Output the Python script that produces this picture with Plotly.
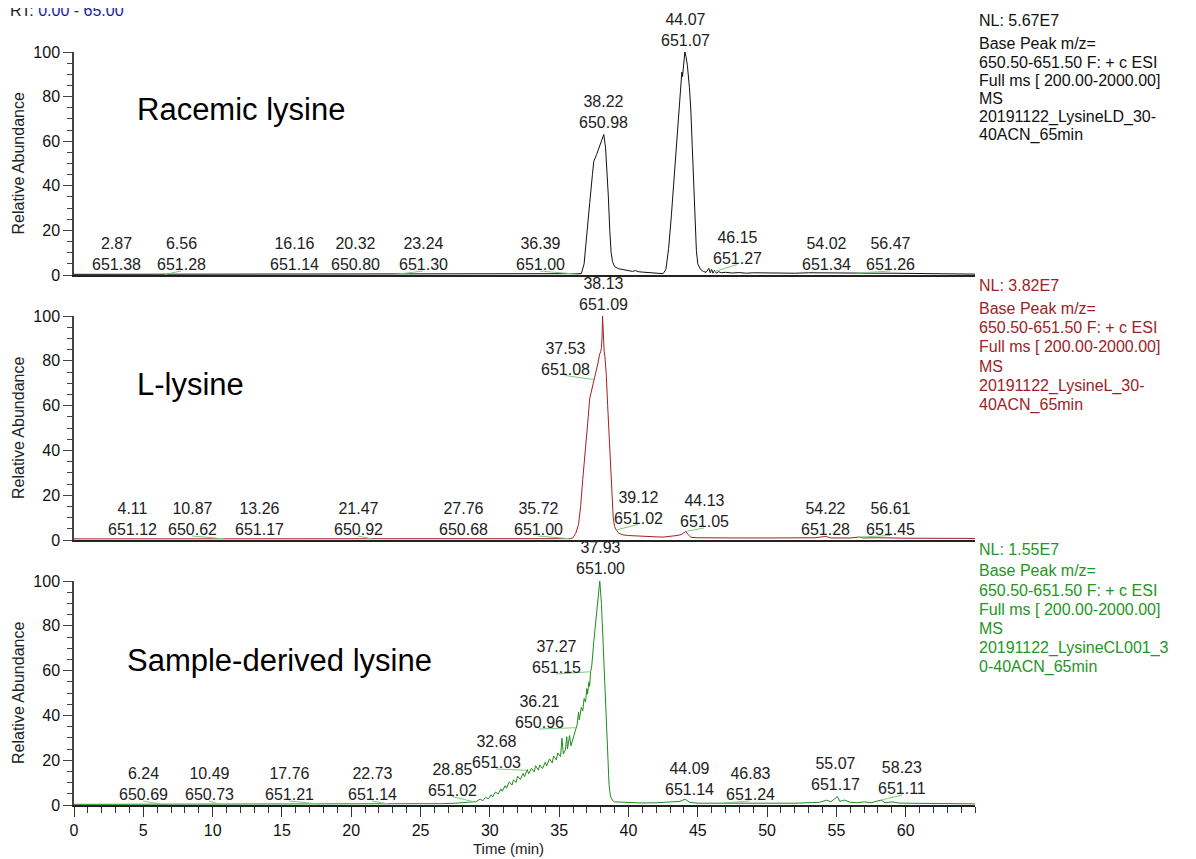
import plotly.graph_objects as go
import numpy as np

# ---------------- data ----------------
time_racemic = [0, 5, 10, 15, 20, 25, 30, 35, 36.4, 36.6, 36.8, 37.0, 37.2, 37.4, 37.5, 37.7, 37.9, 38.05,
                38.22, 38.35, 38.45, 38.55, 38.65, 38.75, 38.85, 39.0, 39.3, 39.7, 40.0, 40.3, 40.5, 40.7,
                41.0, 41.5, 42.0, 42.5, 42.7, 42.9, 43.1, 43.3, 43.5, 43.7, 43.85, 43.9, 43.98, 44.07,
                44.15, 44.25, 44.4, 44.5, 44.6, 44.7, 44.8, 44.9, 45.0, 45.2, 45.4, 45.6, 45.8, 45.9,
                46.0, 46.1, 46.2, 46.35, 46.5, 46.7, 47, 47.5, 48, 48.5, 49, 50, 51, 52, 53, 54, 55,
                56, 57, 58, 59, 60, 61, 62, 63, 65]
abund_racemic = [0.3, 0.3, 0.3, 0.3, 0.3, 0.3, 0.3, 0.3, 0.3, 0.6, 5, 17, 32, 45, 51, 54, 57.5, 60,
                 63, 57, 47, 35, 20, 10, 6, 3.7, 2.8, 2.2, 1.8, 1.6, 2.0, 1.5,
                 1.3, 1.0, 0.8, 0.6, 2.5, 12, 27, 45, 63, 80, 91, 89, 95, 100,
                 98, 94, 84, 74, 58, 42, 25, 11, 5, 2.5, 1.6, 1.2, 3.0, 1.0,
                 2.5, 0.8, 2.0, 0.8, 1.5, 1.0, 1.2, 0.9, 1.1, 0.8, 1.0, 0.9, 1.0, 0.8, 1.0, 0.9, 1.0,
                 0.8, 0.9, 0.8, 0.8, 0.7, 0.6, 0.5, 0.5, 0.4]

time_l = [0, 5, 10, 15, 20, 25, 30, 35, 35.8, 36.0, 36.2, 36.4, 36.55, 36.7, 36.85, 37.0, 37.1, 37.2,
          37.35, 37.5, 37.6, 37.7, 37.8, 37.92, 38.0, 38.05, 38.1, 38.13, 38.17, 38.2, 38.25, 38.3,
          38.4, 38.5, 38.6, 38.7, 38.8, 38.9, 39.0, 39.12, 39.3, 39.6, 40, 40.5, 41, 41.5, 42, 42.5,
          43, 43.5, 43.8, 44.13, 44.3, 44.5, 45, 46, 47, 48, 50, 52, 53.5, 54.2, 54.6, 56, 56.6,
          57, 58, 60, 62, 65]
abund_l = [0.5, 0.5, 0.5, 0.5, 0.5, 0.5, 0.5, 0.5, 0.6, 1.0, 3, 7, 15, 27, 37, 46, 55, 63,
           67, 71, 73, 75, 79, 83, 84, 86, 91, 100, 92, 88, 84, 82,
           74, 60, 47, 32, 19, 10, 6, 4.5, 3, 2.3, 2.0, 1.8, 1.6, 1.3, 1.4, 1.3,
           1.5, 2.0, 2.4, 3.8, 2.5, 1.2, 1.0, 0.9, 1.0, 0.9, 0.9, 0.9, 1.0, 1.6, 0.9, 0.9, 1.3,
           0.9, 1.0, 0.8, 0.8, 0.7]

time_sample = [0, 5, 6.24, 10, 15, 20, 24, 25.5, 26.5, 27.5, 28.2, 28.85, 29.0, 29.3, 29.5, 29.7, 29.9,
               30.1, 30.2, 30.4, 30.6, 30.8, 30.9, 31.1, 31.2, 31.4, 31.6, 31.7, 31.9, 32.0, 32.2, 32.4,
               32.5, 32.7, 32.8, 33.0, 33.2, 33.3, 33.5, 33.6, 33.8, 34.0, 34.1, 34.3, 34.5, 34.6, 34.8,
               34.9, 35.1, 35.2, 35.3, 35.45, 35.55, 35.6, 35.75, 35.85, 36.0, 36.1, 36.21, 36.3, 36.4,
               36.45, 36.6, 36.7, 36.8, 36.9, 37.0, 37.05, 37.15, 37.2, 37.27, 37.35, 37.5, 37.7, 37.93,
               38.05, 38.15, 38.3, 38.4, 38.5, 38.6, 38.7, 38.85, 39.0, 39.5, 40, 41, 42, 43, 43.7,
               44.09, 44.4, 45, 46, 47, 48, 50, 52, 53.8, 54.3, 54.6, 54.9, 55.07, 55.25, 55.6, 56,
               56.5, 57, 57.5, 58.23, 58.5, 59, 59.5, 60, 62, 65]
abund_sample = [0.3, 0.3, 0.4, 0.4, 0.4, 0.4, 0.4, 0.5, 0.6, 0.8, 1.0, 1.4, 1.5, 2.6, 1.9, 3.4, 2.8,
                4.6, 3.6, 5.8, 4.9, 7.2, 6.1, 8.6, 7.5, 10.3, 8.9, 11.2, 10.1, 12.9, 11.4, 14.1,
                12.6, 15.8, 13.9, 16.4, 14.8, 17.5, 15.6, 17.9, 16.3, 19.1, 17.4, 20.6, 18.8, 21.9, 20.1,
                23.2, 21.6, 29.8, 22.8, 24.6, 30.5, 25.0, 31.0, 26.4, 29.5, 32.0, 34.5, 36.0, 41.5,
                38.0, 43.5, 42.0, 47.5, 46.0, 52.0, 49.5, 55.0, 53.0, 59.5, 62.0, 73.0, 87.0, 100,
                90, 75, 52, 37, 22, 9, 4, 2, 1.4, 1.2, 1.0, 0.9, 1.0, 1.3, 1.6,
                2.6, 1.2, 0.8, 0.8, 0.9, 0.8, 0.9, 0.8, 1.2, 2.2, 1.4, 2.8, 3.8, 1.6, 2.2, 1.2,
                1.0, 1.4, 1.0, 2.2, 1.0, 1.4, 0.9, 0.8, 0.6, 0.5]

peaks_racemic_rt = ["2.87", "6.56", "16.16", "20.32", "23.24", "36.39", "38.22", "44.07", "46.15", "54.02", "56.47"]
peaks_racemic_mz = ["651.38", "651.28", "651.14", "650.80", "651.30", "651.00", "650.98", "651.07", "651.27", "651.34", "651.26"]
peaks_l_rt = ["4.11", "10.87", "13.26", "21.47", "27.76", "35.72", "38.13", "37.53", "39.12", "44.13", "54.22", "56.61"]
peaks_l_mz = ["651.12", "650.62", "651.17", "650.92", "650.68", "651.00", "651.09", "651.08", "651.02", "651.05", "651.28", "651.45"]
peaks_sample_rt = ["6.24", "10.49", "17.76", "22.73", "28.85", "32.68", "36.21", "37.27", "37.93", "44.09", "46.83", "55.07", "58.23"]
peaks_sample_mz = ["650.69", "650.73", "651.21", "651.14", "651.02", "651.03", "650.96", "651.15", "651.00", "651.14", "651.24", "651.17", "651.11"]

panel_titles = ["Racemic lysine", "L-lysine", "Sample-derived lysine"]
nl_values = ["NL: 5.67E7", "NL: 3.82E7", "NL: 1.55E7"]
file_names = ["20191122_LysineLD_30-", "20191122_LysineL_30-", "20191122_LysineCL001_3"]
file_tails = ["40ACN_65min", "40ACN_65min", "0-40ACN_65min"]
x_ticks = [0, 5, 10, 15, 20, 25, 30, 35, 40, 45, 50, 55, 60]

# ---------------- layout helpers (positions / styles) ----------------
# The page adds an 8 px body margin, so the figure is drawn from (8, 8).
OFF = 8
W, H = 1196 - OFF, 859 - OFF
PLOT_L, PLOT_R, PLOT_T, PLOT_B = 74, 975, 21, 805   # page pixel coordinates of the plot area
ML = PLOT_L - OFF
MR = (W + OFF) - PLOT_R
MT = PLOT_T - OFF
MB = (H + OFF) - PLOT_B
PH = PLOT_B - PLOT_T
PW = PLOT_R - PLOT_L
FONT = "Liberation Sans, Arial, sans-serif"

def py2paper(py):
    return (PLOT_B - py) / PH

def px2paper(px):
    return (px - PLOT_L) / PW

def px2t(px):
    return (px - PLOT_L) / PW * 65.0

panel_px = [(275, 52), (540, 316), (805, 581)]  # (zero, hundred) pixel rows in the target picture
colors = ["#111111", "#a3201f", "#1f8c1f"]
text_colors = ["#111111", "#9b2426", "#249624"]

# label positions (pixel centres)
lab_pos = [
    [(116, 254), (181, 254), (294, 254), (355, 254), (423, 254), (540, 254), (603, 112), (685, 30),
     (737, 247.5), (826, 254), (890, 254)],
    [(132, 519), (192, 519), (259, 519), (358, 519), (463, 519), (538, 519), (603, 294.5), (565, 358.5),
     (638, 507.5), (704, 511), (825, 518.5), (890, 518.5)],
    [(143, 784), (209, 784), (289, 784), (372, 784), (452, 779.5), (496, 752), (539, 712), (556, 657),
     (600, 557.5), (689, 778.5), (750, 784), (835, 774), (902, 778)],
]
title_pos = [(135, 110), (135, 384), (125, 660)]
nl_y = [20, 285, 549]
first_y = [44, 308, 571]
steps = [18.2, 19.4, 19.2]

fig = go.Figure()
traces = [(time_racemic, abund_racemic), (time_l, abund_l), (time_sample, abund_sample)]
peak_rt = [peaks_racemic_rt, peaks_l_rt, peaks_sample_rt]
peak_mz = [peaks_racemic_mz, peaks_l_mz, peaks_sample_mz]

annotations = []
shapes = []

for i, (t, a) in enumerate(traces):
    xa = "x" if i == 0 else f"x{i+1}"
    ya = "y" if i == 0 else f"y{i+1}"
    fig.add_trace(go.Scatter(x=t, y=a, mode="lines", line=dict(color=colors[i], width=1),
                             xaxis=xa, yaxis=ya, showlegend=False, hoverinfo="skip"))
    z, h = panel_px[i]
    for k, (rt, mz) in enumerate(zip(peak_rt[i], peak_mz[i])):
        lx, ly = lab_pos[i][k]
        annotations.append(dict(x=px2t(lx), y=py2paper(ly), xref="x", yref="paper",
                                text=f"{rt}<br>{mz}", showarrow=False, xanchor="center", yanchor="middle",
                                font=dict(family=FONT, size=16, color="#222222")))
        rtv = float(rt)
        if abs(px2t(lx) - rtv) > 0.4:
            v = float(np.interp(rtv, t, a))
            y_peak = py2paper(z - (z - h) * v / 100.0)
            y_lab = py2paper(ly + 17)
            shapes.append(dict(type="line", xref="x", yref="paper", x0=px2t(lx), y0=y_lab,
                               x1=rtv, y1=y_peak, line=dict(color="#7ccc7c", width=1)))
    # panel title
    annotations.append(dict(x=px2paper(title_pos[i][0]), y=py2paper(title_pos[i][1]), xref="paper",
                            yref="paper", text=panel_titles[i], showarrow=False, xanchor="left",
                            yanchor="middle", font=dict(family=FONT, size=31, color="#000000")))
    # y title
    annotations.append(dict(x=px2paper(18), y=py2paper((z + h) / 2), xref="paper", yref="paper",
                            text="Relative Abundance", textangle=-90, showarrow=False, xanchor="center",
                            yanchor="middle", font=dict(family=FONT, size=16, color="#222222")))
    # right info block
    info_lines = ["Base Peak m/z=", "650.50-651.50 F: + c ESI", "Full ms [ 200.00-2000.00]", "MS",
                  file_names[i], file_tails[i]]
    xr = px2paper(977)
    annotations.append(dict(x=xr, y=py2paper(nl_y[i]), xref="paper", yref="paper", text=nl_values[i],
                            showarrow=False, xanchor="left", yanchor="middle",
                            font=dict(family=FONT, size=16, color=text_colors[i])))
    for j, line in enumerate(info_lines):
        annotations.append(dict(x=xr, y=py2paper(first_y[i] + j * steps[i]), xref="paper", yref="paper",
                                text=line, showarrow=False, xanchor="left", yanchor="middle",
                                font=dict(family=FONT, size=16, color=text_colors[i])))

# RT range text (sits at the very top edge as in the original)
annotations.append(dict(x=px2paper(OFF), y=py2paper(10), xref="paper", yref="paper",
                        text="RT: <span style='color:#1c1ca8'>0.00 - 65.00</span>", showarrow=False,
                        xanchor="left", yanchor="middle", font=dict(family=FONT, size=16, color="#222222")))
# x title
annotations.append(dict(x=px2paper(508), y=py2paper(849), xref="paper", yref="paper", text="Time (min)",
                        showarrow=False, xanchor="center", yanchor="middle",
                        font=dict(family=FONT, size=15, color="#222222")))

layout = dict(width=W, height=H, margin=dict(l=ML, r=MR, t=MT, b=MB, pad=0),
              paper_bgcolor="white", plot_bgcolor="white", showlegend=False,
              annotations=annotations, shapes=shapes)

for i in range(3):
    z, h = panel_px[i]
    xk = "xaxis" if i == 0 else f"xaxis{i+1}"
    yk = "yaxis" if i == 0 else f"yaxis{i+1}"
    ya = "y" if i == 0 else f"y{i+1}"
    xa = "x" if i == 0 else f"x{i+1}"
    bottom = i == 2
    layout[xk] = dict(domain=[0, 1], anchor=ya, range=[0, 65], showgrid=False, zeroline=False,
                      showline=True, linecolor="#222222", linewidth=2, automargin=False,
                      showticklabels=bottom, ticks="outside" if bottom else "",
                      tickvals=x_ticks, ticklen=10, tickwidth=1.2, tickcolor="#333333",
                      tickfont=dict(family=FONT, size=16, color="#111111"),
                      minor=dict(dtick=1, ticks="outside" if bottom else "", ticklen=6, tickcolor="#333333",
                                 tickwidth=1.2, showgrid=False))
    layout[yk] = dict(domain=[py2paper(z), py2paper(h)], anchor=xa, range=[0, 100], showgrid=False,
                      zeroline=False, showline=True, linecolor="#444444", linewidth=1.5, automargin=False,
                      ticks="outside", tickvals=[0, 20, 40, 60, 80, 100], ticklen=9, tickwidth=1.2,
                      tickcolor="#444444", tickfont=dict(family=FONT, size=16, color="#111111"),
                      minor=dict(dtick=5, ticks="outside", ticklen=5, tickcolor="#444444", tickwidth=1.2,
                                 showgrid=False))

fig.update_layout(**layout)
fig.write_html("out.html")
